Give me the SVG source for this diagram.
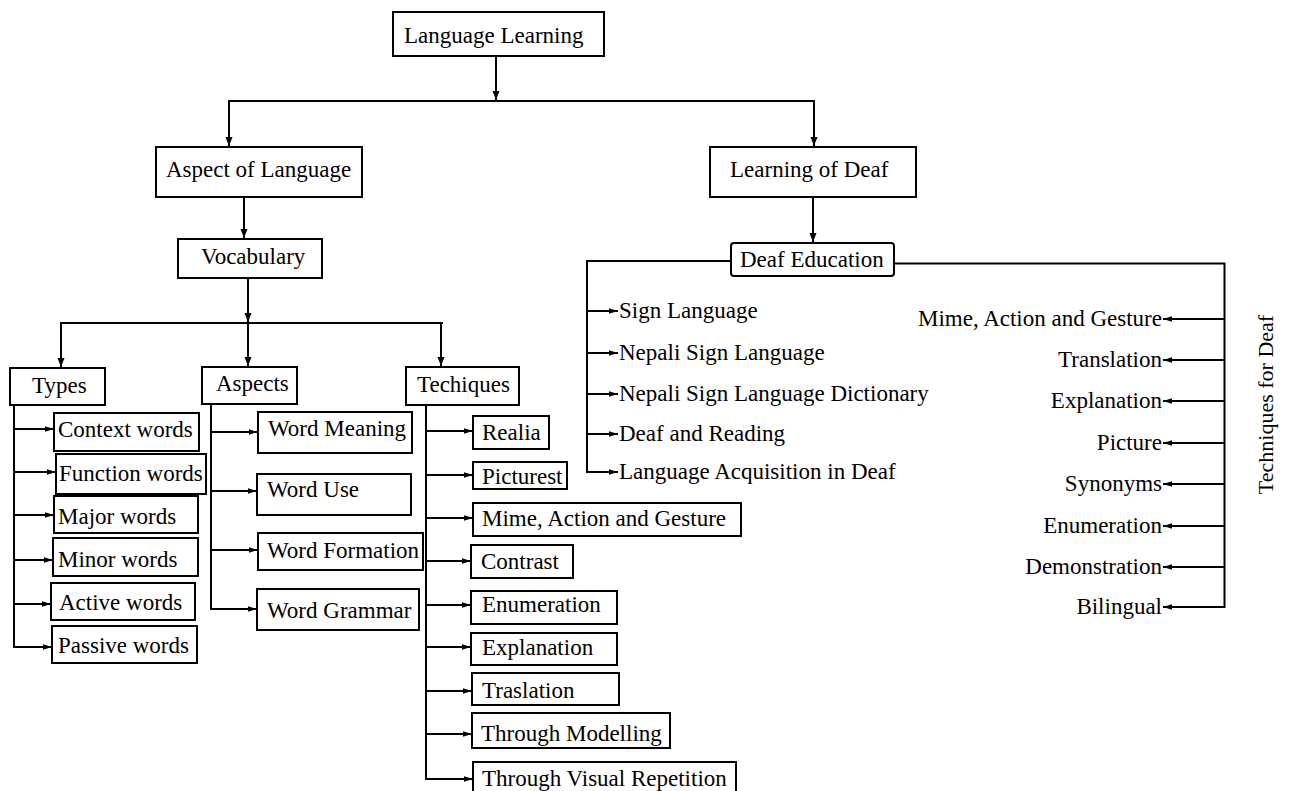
<svg xmlns="http://www.w3.org/2000/svg" width="1291" height="791" viewBox="0 0 1291 791">
<style>
  text { font-family: "Liberation Serif", "Times New Roman", serif; font-size: 23px; fill: #000; }
  .box { fill: #fff; stroke: #000; stroke-width: 2; }
  .c line, .c path { stroke: #000; stroke-width: 2; fill: none; }
  .a { marker-end: url(#ah); }
  .s { marker-end: url(#sh); }
  .r { text-anchor: end; }
</style>
<defs>
  <marker id="ah" markerUnits="userSpaceOnUse" markerWidth="10" markerHeight="8" refX="9" refY="4" orient="auto">
    <path d="M0,0.5 L9,4 L0,7.5 z" fill="#000"/>
  </marker>
  <marker id="sh" markerUnits="userSpaceOnUse" markerWidth="10" markerHeight="7" refX="9" refY="3.5" orient="auto">
    <path d="M0,0.8 L9,3.5 L0,6.2 z" fill="#000"/>
  </marker>
</defs>
<rect width="1291" height="791" fill="#fff"/>

<g id="connectors" class="c">
  <line class="a" x1="496" y1="56" x2="496" y2="100"/>
  <line x1="228" y1="101" x2="815" y2="101"/>
  <line class="a" x1="229" y1="101" x2="229" y2="146"/>
  <line class="a" x1="814" y1="101" x2="814" y2="146"/>
  <line class="a" x1="244" y1="197" x2="244" y2="238"/>
  <line class="a" x1="248" y1="278" x2="248" y2="322"/>
  <line x1="60" y1="323" x2="443" y2="323"/>
  <line class="a" x1="61" y1="323" x2="61" y2="367"/>
  <line class="a" x1="248" y1="323" x2="248" y2="366"/>
  <line class="a" x1="441" y1="323" x2="441" y2="366"/>
  <line class="a" x1="813" y1="197" x2="813" y2="242"/>

  <!-- Types -->
  <path class="s" d="M14,405 V647 H52"/>
  <line class="s" x1="14" y1="429" x2="54" y2="429"/>
  <line class="s" x1="14" y1="472" x2="56" y2="472"/>
  <line class="s" x1="14" y1="515" x2="54" y2="515"/>
  <line class="s" x1="14" y1="560" x2="53" y2="560"/>
  <line class="s" x1="14" y1="604" x2="51" y2="604"/>

  <!-- Aspects -->
  <path class="s" d="M211,404 V609 H257"/>
  <line class="s" x1="211" y1="432" x2="258" y2="432"/>
  <line class="s" x1="211" y1="491" x2="257" y2="491"/>
  <line class="s" x1="211" y1="550" x2="258" y2="550"/>

  <!-- Techiques -->
  <path class="s" d="M426,405 V779 H473"/>
  <line class="s" x1="426" y1="431" x2="473" y2="431"/>
  <line class="s" x1="426" y1="475" x2="473" y2="475"/>
  <line class="s" x1="426" y1="518" x2="473" y2="518"/>
  <line class="s" x1="426" y1="561" x2="471" y2="561"/>
  <line class="s" x1="426" y1="605" x2="471" y2="605"/>
  <line class="s" x1="426" y1="647" x2="471" y2="647"/>
  <line class="s" x1="426" y1="691" x2="472" y2="691"/>
  <line class="s" x1="426" y1="734" x2="472" y2="734"/>

  <!-- Deaf Education left -->
  <path class="s" d="M731,261 H587 V472 H618"/>
  <line class="s" x1="587" y1="311" x2="618" y2="311"/>
  <line class="s" x1="587" y1="353" x2="618" y2="353"/>
  <line class="s" x1="587" y1="394" x2="618" y2="394"/>
  <line class="s" x1="587" y1="434" x2="618" y2="434"/>

  <!-- Deaf Education right -->
  <path class="s" d="M894,263.5 H1224.5 V607 H1163"/>
  <line class="s" x1="1224.5" y1="319" x2="1163" y2="319"/>
  <line class="s" x1="1224.5" y1="360" x2="1163" y2="360"/>
  <line class="s" x1="1224.5" y1="401" x2="1163" y2="401"/>
  <line class="s" x1="1224.5" y1="443" x2="1163" y2="443"/>
  <line class="s" x1="1224.5" y1="484" x2="1163" y2="484"/>
  <line class="s" x1="1224.5" y1="526" x2="1163" y2="526"/>
  <line class="s" x1="1224.5" y1="567" x2="1163" y2="567"/>
</g>

<g id="language-learning"><rect class="box" x="393" y="12" width="211" height="44"/><text x="404" y="43">Language Learning</text></g>
<g id="aspect-of-language"><rect class="box" x="156" y="147" width="206" height="50"/><text x="166" y="177">Aspect of Language</text></g>
<g id="learning-of-deaf"><rect class="box" x="710" y="147" width="206" height="50"/><text x="730" y="177">Learning of Deaf</text></g>
<g id="vocabulary"><rect class="box" x="178" y="239" width="144" height="39"/><text x="201" y="264">Vocabulary</text></g>
<g id="deaf-education"><rect class="box" x="731" y="243" width="163" height="33" rx="3"/><text x="740" y="267">Deaf Education</text></g>

<g id="types"><rect class="box" x="10" y="368" width="95" height="37"/><text x="32" y="393">Types</text></g>
<g id="aspects"><rect class="box" x="202" y="367" width="95" height="37"/><text x="216" y="391">Aspects</text></g>
<g id="techiques"><rect class="box" x="406" y="367" width="113" height="38"/><text x="417" y="392">Techiques</text></g>

<g id="context-words"><rect class="box" x="54" y="413" width="145" height="38"/><text x="58" y="437">Context words</text></g>
<g id="function-words"><rect class="box" x="56" y="454" width="150" height="40"/><text x="59" y="481">Function words</text></g>
<g id="major-words"><rect class="box" x="54" y="496" width="144" height="37"/><text x="58" y="524">Major words</text></g>
<g id="minor-words"><rect class="box" x="53" y="538" width="145" height="38"/><text x="58" y="567">Minor words</text></g>
<g id="active-words"><rect class="box" x="51" y="583" width="144" height="37"/><text x="59" y="610">Active words</text></g>
<g id="passive-words"><rect class="box" x="52" y="626" width="145" height="37"/><text x="58" y="653">Passive words</text></g>

<g id="word-meaning"><rect class="box" x="258" y="412" width="154" height="41"/><text x="268" y="436">Word Meaning</text></g>
<g id="word-use"><rect class="box" x="257" y="474" width="154" height="41"/><text x="267" y="497">Word Use</text></g>
<g id="word-formation"><rect class="box" x="258" y="533" width="165" height="37"/><text x="267" y="558">Word Formation</text></g>
<g id="word-grammar"><rect class="box" x="257" y="589" width="162" height="41"/><text x="267" y="618">Word Grammar</text></g>

<g id="realia"><rect class="box" x="473" y="416" width="76" height="33"/><text x="482" y="440">Realia</text></g>
<g id="picturest"><rect class="box" x="473" y="462" width="94" height="27"/><text x="482" y="484">Picturest</text></g>
<g id="mime-action-gesture"><rect class="box" x="473" y="503" width="268" height="33"/><text x="482" y="526">Mime, Action and Gesture</text></g>
<g id="contrast"><rect class="box" x="471" y="545" width="102" height="33"/><text x="481" y="569">Contrast</text></g>
<g id="enumeration"><rect class="box" x="471" y="591" width="146" height="33"/><text x="482" y="612">Enumeration</text></g>
<g id="explanation"><rect class="box" x="471" y="633" width="146" height="32"/><text x="482" y="655">Explanation</text></g>
<g id="traslation"><rect class="box" x="472" y="673" width="147" height="32"/><text x="482" y="698">Traslation</text></g>
<g id="through-modelling"><rect class="box" x="472" y="713" width="198" height="35"/><text x="481" y="741">Through Modelling</text></g>
<g id="through-visual-repetition"><rect class="box" x="473" y="762" width="263" height="40"/><text x="482" y="786">Through Visual Repetition</text></g>

<g id="deaf-left">
  <text x="619" y="318">Sign Language</text>
  <text x="619" y="360">Nepali Sign Language</text>
  <text x="619" y="401">Nepali Sign Language Dictionary</text>
  <text x="619" y="441">Deaf and Reading</text>
  <text x="619" y="479">Language Acquisition in Deaf</text>
</g>

<g id="deaf-right">
  <text class="r" x="1162" y="326">Mime, Action and Gesture</text>
  <text class="r" x="1162" y="367">Translation</text>
  <text class="r" x="1162" y="408">Explanation</text>
  <text class="r" x="1162" y="450">Picture</text>
  <text class="r" x="1162" y="491">Synonyms</text>
  <text class="r" x="1162" y="533">Enumeration</text>
  <text class="r" x="1162" y="574">Demonstration</text>
  <text class="r" x="1162" y="614">Bilingual</text>
</g>

<g id="techniques-for-deaf-label">
  <text x="1273" y="404.5" transform="rotate(-90 1273 404.5)" text-anchor="middle" style="font-size:22px">Techniques for Deaf</text>
</g>
</svg>
